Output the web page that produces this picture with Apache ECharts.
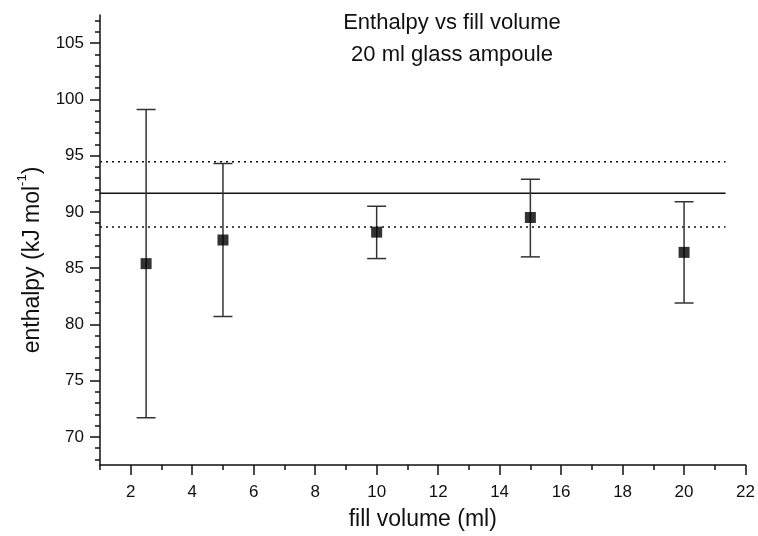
<!DOCTYPE html>
<html>
<head>
<meta charset="utf-8">
<script src="https://cdn.jsdelivr.net/npm/echarts@6/dist/echarts.min.js"></script>
<style>
  html, body { margin: 0; padding: 0; background: #fff; }
  #main { width: 758px; height: 536px; }
</style>
</head>
<body>
<div id="main"></div>
<script>
// measured points: fill volume vs enthalpy, with error bar ends
var fillVolume = [2.5, 5, 10, 15, 20];
var enthalpy = [85.4, 87.5, 88.2, 89.5, 86.4];
var errLow = [71.7, 80.7, 85.85, 86.0, 81.9];
var errHigh = [99.1, 94.3, 90.5, 92.9, 90.9];

// mean line and its band
var meanValue = 91.65;
var bandLow = 88.65;
var bandHigh = 94.45;
var lineSpan = [1, 21.35];

// axis ticks
var xMajorTicks = [2, 4, 6, 8, 10, 12, 14, 16, 18, 20, 22];
var xMinorTicks = [1, 3, 5, 7, 9, 11, 13, 15, 17, 19, 21];
var yMajorTicks = [70, 75, 80, 85, 90, 95, 100, 105];
var yMinorTicks = [];
for (var v = 68; v <= 107; v++) {
  if (v % 5 !== 0) yMinorTicks.push(v);
}

var FONT = "Liberation Sans";

var myChart = echarts.init(document.getElementById("main"));

function hLine(val, type) {
  return {
    type: "line",
    data: [[lineSpan[0], val], [lineSpan[1], val]],
    showSymbol: false,
    symbol: "none",
    silent: true,
    lineStyle: { color: "#111", width: 1.5, type: type },
    z: 2
  };
}

myChart.setOption({
  animation: false,
  title: {
    text: "Enthalpy vs fill volume\n20 ml glass ampoule",
    left: 447,
    top: 2,
    textAlign: "center",
    textStyle: {
      fontFamily: FONT,
      fontWeight: "normal",
      fontSize: 22,
      lineHeight: 32,
      color: "#111"
    }
  },
  grid: {
    left: 100,
    right: 11,
    top: 15,
    bottom: 68
  },
  xAxis: [
    {
      type: "value",
      min: 1,
      max: 22,
      position: "bottom",
      name: "fill volume (ml)",
      nameLocation: "middle",
      nameGap: 43,
      nameTextStyle: { fontFamily: FONT, fontSize: 23, color: "#111" },
      axisLine: { show: true, lineStyle: { color: "#111", width: 1.5 } },
      axisTick: { show: true, customValues: xMajorTicks, length: 10, lineStyle: { color: "#111", width: 1.5 } },
      axisLabel: { customValues: xMajorTicks, margin: 19, fontFamily: FONT, fontSize: 17, color: "#111" },
      splitLine: { show: false }
    },
    {
      type: "value",
      min: 1,
      max: 22,
      position: "bottom",
      axisLine: { show: false },
      axisTick: { show: true, customValues: xMinorTicks, length: 5, lineStyle: { color: "#111", width: 1.5 } },
      axisLabel: { show: false },
      splitLine: { show: false }
    }
  ],
  yAxis: [
    {
      type: "value",
      min: 67.5,
      max: 107.5,
      position: "left",
      name: "{a|enthalpy (kJ mol}{s|-1}{a|)}",
      nameLocation: "middle",
      nameRotate: 90,
      nameGap: 56,
      nameTextStyle: {
        fontFamily: FONT,
        color: "#111",
        padding: [0, 40, 0, 0],
        rich: {
          a: { fontFamily: FONT, fontSize: 23, color: "#111", lineHeight: 28, verticalAlign: "bottom" },
          s: { fontFamily: FONT, fontSize: 13, color: "#111", lineHeight: 28, verticalAlign: "top" }
        }
      },
      axisLine: { show: true, lineStyle: { color: "#111", width: 1.5 } },
      axisTick: { show: true, customValues: yMajorTicks, length: 10, lineStyle: { color: "#111", width: 1.5 } },
      axisLabel: { customValues: yMajorTicks, margin: 16, fontFamily: FONT, fontSize: 17, color: "#111" },
      splitLine: { show: false }
    },
    {
      type: "value",
      min: 67.5,
      max: 107.5,
      position: "left",
      axisLine: { show: false },
      axisTick: { show: true, customValues: yMinorTicks, length: 5, lineStyle: { color: "#111", width: 1.5 } },
      axisLabel: { show: false },
      splitLine: { show: false }
    }
  ],
  series: [
    hLine(meanValue, "solid"),
    hLine(bandHigh, [2, 4]),
    hLine(bandLow, [2, 4]),
    {
      type: "custom",
      name: "error",
      data: fillVolume.map(function (x, i) { return [x, errLow[i], errHigh[i]]; }),
      encode: { x: 0, y: [1, 2] },
      renderItem: function (params, api) {
        var x = api.value(0);
        var lo = api.coord([x, api.value(1)]);
        var hi = api.coord([x, api.value(2)]);
        var half = 9.5;
        var style = { stroke: "#333", lineWidth: 1.5, fill: null };
        return {
          type: "group",
          children: [
            { type: "line", shape: { x1: lo[0], y1: lo[1], x2: hi[0], y2: hi[1] }, style: style },
            { type: "line", shape: { x1: lo[0] - half, y1: lo[1], x2: lo[0] + half, y2: lo[1] }, style: style },
            { type: "line", shape: { x1: hi[0] - half, y1: hi[1], x2: hi[0] + half, y2: hi[1] }, style: style }
          ]
        };
      },
      z: 3
    },
    {
      type: "scatter",
      name: "enthalpy",
      data: fillVolume.map(function (x, i) { return [x, enthalpy[i]]; }),
      symbol: "rect",
      symbolSize: 11,
      itemStyle: { color: "#000" },
      z: 5
    }
  ]
});
</script>
</body>
</html>
